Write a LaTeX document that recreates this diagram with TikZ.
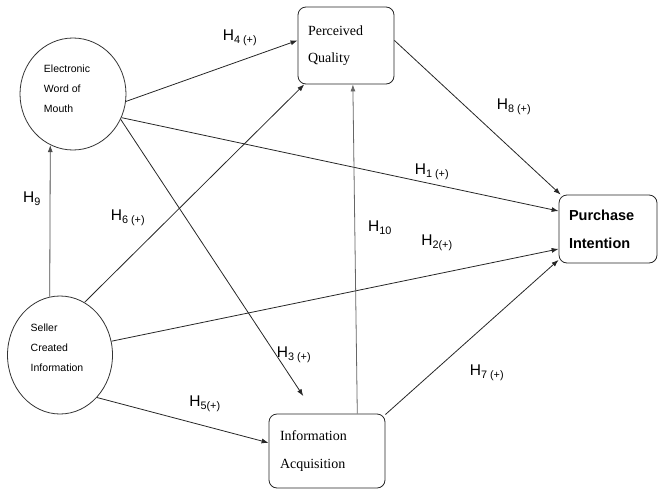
\documentclass[tikz,border=0pt]{standalone}
\usepackage{fontspec}
\setmainfont{Liberation Serif}
\setsansfont{Liberation Sans}
\usetikzlibrary{shapes.geometric,arrows.meta}
\begin{document}
\begin{tikzpicture}[x=1pt,y=-1pt,
  conn/.style={draw=black!85,line width=0.8pt,-{Latex[length=7pt,width=5pt]}},
  circ/.style={ellipse,draw=black!80,line width=0.8pt,inner sep=0pt},
  ctext/.style={align=left,inner sep=0pt,font=\sffamily\fontsize{10.5}{20}\selectfont},
  rbox/.style={rectangle,rounded corners=8pt,draw=black!85,line width=0.8pt,inner sep=0pt,
    align=left,font=\fontsize{14}{27.5}\selectfont},
  hlab/.style={font=\sffamily\fontsize{15.5}{15.5}\selectfont,inner sep=0pt}]
\useasboundingbox (0,0) rectangle (658,490);
% nodes
\node[circ,minimum width=106pt,minimum height=112pt,
  label={[ctext,name=ewomtxt,xshift=-6pt,yshift=5pt]center:Electronic\\Word of\\Mouth}] (ewom) at (73,94) {};
\node[circ,minimum width=105pt,minimum height=118pt,
  label={[ctext,name=scitxt,xshift=-3pt,yshift=7pt]center:Seller\\Created\\Information}] (sci) at (60,355) {};
\node[rbox,minimum width=96pt,minimum height=77pt,text width=76pt] (pq) at (346,45.5) {Perceived\\Quality};
\node[rbox,minimum width=116pt,minimum height=74pt,text width=94pt] (ia) at (327,451) {Information\\Acquisition};
\node[rbox,minimum width=98pt,minimum height=68pt,text width=78pt,
  font=\sffamily\bfseries\fontsize{14.5}{28}\selectfont] (pi) at (608,229) {Purchase\\Intention};
% connectors
\draw[conn] (ewom.-8) -- (pq.174);
\draw[conn] (sci.65) -- (pq.223);
\draw[conn] (ewom.-26) -- (pi.160);
\draw[conn,shorten >=21pt] (ewom.-28) -- (ia.108);
\draw[conn] (pq.6) -- (pi.144);
\draw[conn] (sci.15) -- (pi.202);
\draw[conn] (sci.-49) -- (ia.172);
\draw[conn] (ia.32) -- (pi.212);
\draw[conn,draw=black!60] (ia.51) -- (pq.280);
\draw[conn,draw=black!70] (sci.100.6) -- (ewom.246.8);
% labels
\node[hlab] (h4) at (240,38) {H\textsubscript{4 (+)}};
\node[hlab] (h6) at (128,218) {H\textsubscript{6 (+)}};
\node[hlab] (h9) at (32,199) {H\textsubscript{9}};
\node[hlab] (h8) at (514,107) {H\textsubscript{8 (+)}};
\node[hlab] (h1) at (432,172) {H\textsubscript{1 (+)}};
\node[hlab] (h10) at (380,228) {H\textsubscript{10}};
\node[hlab] (h2) at (437,243) {H\textsubscript{2(+)}};
\node[hlab] (h3) at (294,355) {H\textsubscript{3 (+)}};
\node[hlab] (h5) at (205,404) {H\textsubscript{5(+)}};
\node[hlab] (h7) at (487,373) {H\textsubscript{7 (+)}};
\end{tikzpicture}
\end{document}
